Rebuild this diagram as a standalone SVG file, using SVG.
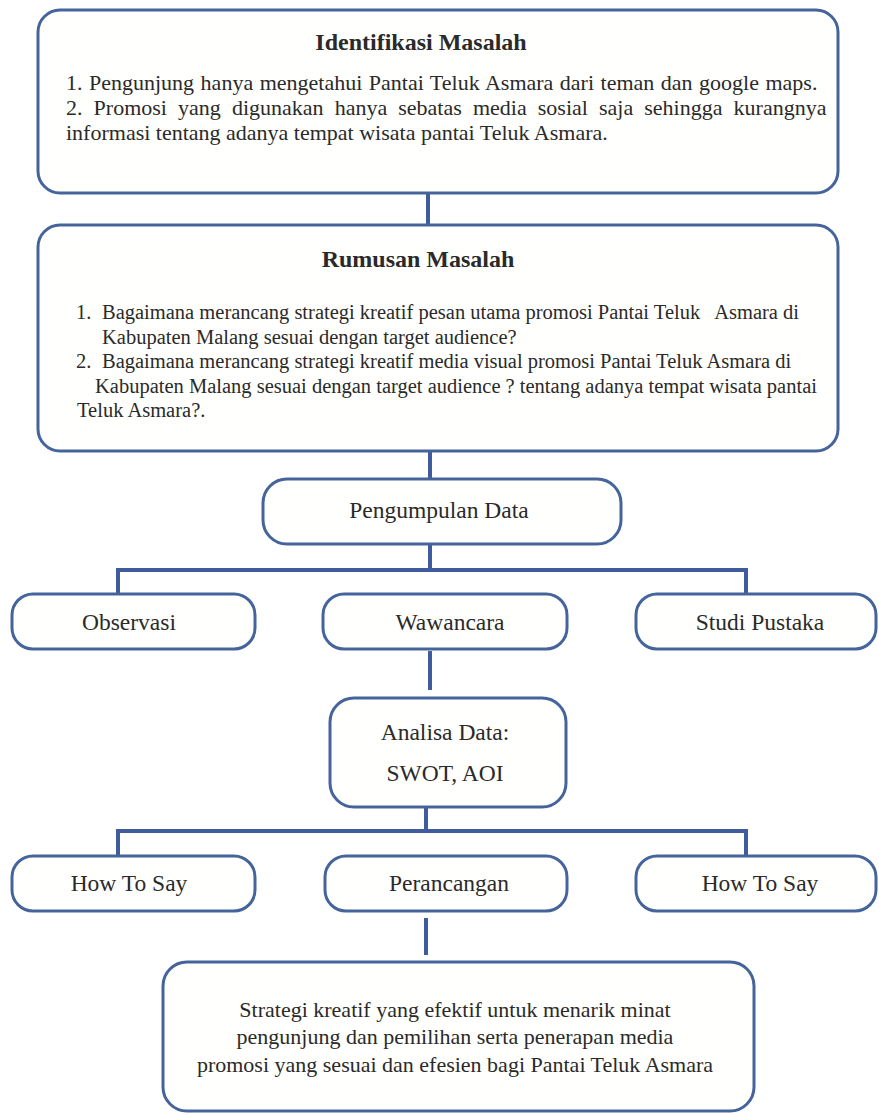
<svg xmlns="http://www.w3.org/2000/svg" width="879" height="1115" viewBox="0 0 879 1115">
<style>
.box{fill:#fffffd;stroke:#46649c;stroke-width:3}
.con{stroke:#3f5c9c;stroke-width:4;fill:none}
.f{font-family:"Liberation Serif", serif}
text{fill:#2a2a2a;font-size:22px}
.t{font-weight:bold;font-size:24px;text-anchor:middle}
.c{text-anchor:middle}
.s{font-size:23.5px}
.b{font-size:20.5px}
</style>
<rect width="879" height="1115" fill="#ffffff"/>
<g id="connectors">
<line class="con" x1="428" y1="193" x2="428" y2="225"/>
<line class="con" x1="430" y1="451" x2="430" y2="479"/>
<line class="con" x1="430" y1="544" x2="430" y2="570"/>
<polyline class="con" points="118,594 118,570 746,570 746,594"/>
<line class="con" x1="430" y1="651" x2="430" y2="690"/>
<line class="con" x1="426" y1="807" x2="426" y2="831"/>
<polyline class="con" points="118,856 118,831 746,831 746,856"/>
<line class="con" x1="426" y1="918" x2="426" y2="955"/>
</g>
<g id="identifikasi" class="f">
<rect class="box" x="38" y="10" width="800" height="183" rx="22"/>
<text class="t f" x="421" y="50">Identifikasi Masalah</text>
<text class="f" x="66" y="90" word-spacing="1">1. Pengunjung hanya mengetahui Pantai Teluk Asmara dari teman dan google maps.</text>
<text class="f" x="66" y="115" word-spacing="5.6">2. Promosi yang digunakan hanya sebatas media sosial saja sehingga kurangnya</text>
<text class="f" x="66" y="140">informasi tentang adanya tempat wisata pantai Teluk Asmara.</text>
</g>
<g id="rumusan" class="f">
<rect class="box" x="38" y="225" width="800" height="226" rx="22"/>
<text class="t f" x="418" y="267">Rumusan Masalah</text>
<text class="b f" x="76" y="319">1.</text>
<text class="b f" x="102" y="319">Bagaimana merancang strategi kreatif pesan utama promosi Pantai Teluk <tspan dx="10">Asmara di</tspan></text>
<text class="b f" x="102" y="344">Kabupaten Malang sesuai dengan target audience?</text>
<text class="b f" x="76" y="368">2.</text>
<text class="b f" x="102" y="368">Bagaimana merancang strategi kreatif media visual promosi Pantai Teluk Asmara di</text>
<text class="b f" x="95" y="393">Kabupaten Malang sesuai dengan target audience ? tentang adanya tempat wisata pantai</text>
<text class="b f" x="77" y="417">Teluk Asmara?.</text>
</g>
<g id="pengumpulan" class="f">
<rect class="box" x="263" y="479" width="358" height="65" rx="24"/>
<text class="c s f" x="439" y="518">Pengumpulan Data</text>
</g>
<g id="observasi" class="f">
<rect class="box" x="12" y="594" width="243" height="55" rx="21"/>
<text class="c s f" x="129" y="630">Observasi</text>
</g>
<g id="wawancara" class="f">
<rect class="box" x="323" y="594" width="244" height="55" rx="21"/>
<text class="c s f" x="450" y="630">Wawancara</text>
</g>
<g id="studi" class="f">
<rect class="box" x="636" y="594" width="240" height="55" rx="21"/>
<text class="c s f" x="760" y="630">Studi Pustaka</text>
</g>
<g id="analisa" class="f">
<rect class="box" x="330" y="698" width="236" height="109" rx="24"/>
<text class="c s f" x="445" y="740">Analisa Data:</text>
<text class="c s f" x="445" y="781">SWOT, AOI</text>
</g>
<g id="howtosay1" class="f">
<rect class="box" x="12" y="856" width="243" height="55" rx="21"/>
<text class="c s f" x="129" y="891">How To Say</text>
</g>
<g id="perancangan" class="f">
<rect class="box" x="325" y="856" width="242" height="55" rx="21"/>
<text class="c s f" x="449" y="891">Perancangan</text>
</g>
<g id="howtosay2" class="f">
<rect class="box" x="636" y="856" width="240" height="55" rx="21"/>
<text class="c s f" x="760" y="891">How To Say</text>
</g>
<g id="strategi" class="f">
<rect class="box" x="163" y="962" width="591" height="149" rx="24"/>
<text class="c f" x="455" y="1017">Strategi kreatif yang efektif untuk menarik minat</text>
<text class="c f" x="455" y="1044">pengunjung dan pemilihan serta penerapan media</text>
<text class="c f" x="455" y="1072">promosi yang sesuai dan efesien bagi Pantai Teluk Asmara</text>
</g>
</svg>
